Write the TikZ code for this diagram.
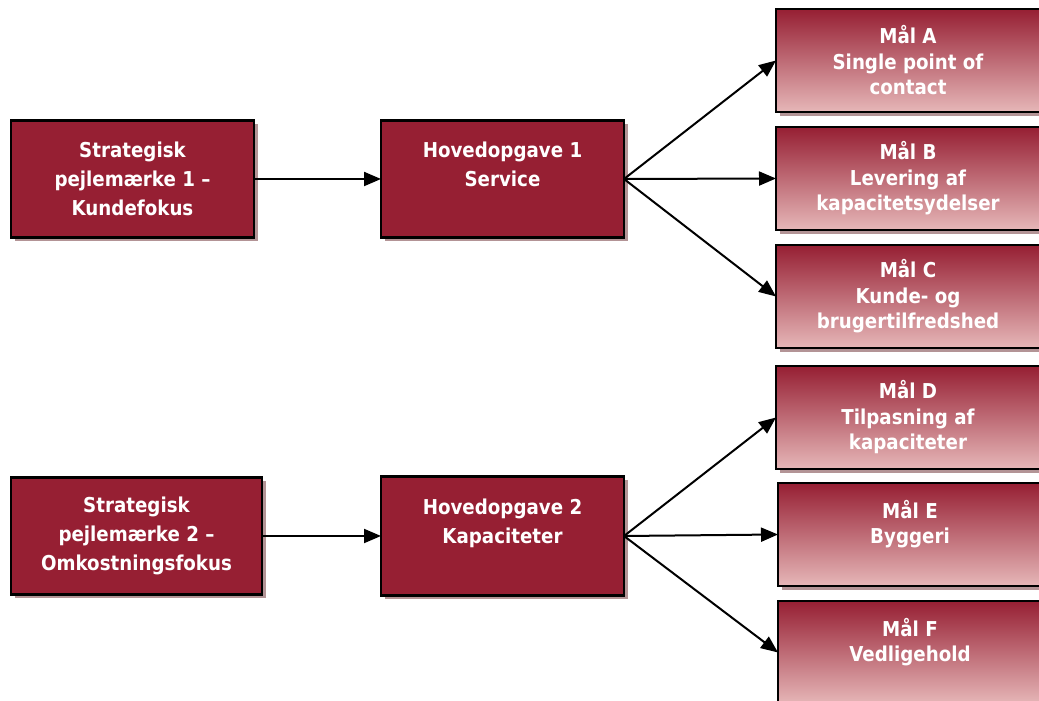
\documentclass[tikz,border=0pt]{standalone}
\usepackage{fontspec}
\setmainfont{DejaVu Sans}[FakeStretch=0.89]
\usetikzlibrary{arrows.meta,positioning,shadows}

\definecolor{boxred}{HTML}{961F33}
\definecolor{boxpink}{HTML}{E6B7B8}
\definecolor{shadowgrey}{HTML}{B39496}

\begin{document}
\begin{tikzpicture}[x=1pt, y=1pt,
  font=\fontsize{20.5}{29}\selectfont\bfseries,
  mbox/.style={draw, line width=2.2pt, fill=boxred, text=white, align=center, inner sep=0pt, outer sep=0pt,
    minimum width=243pt, minimum height=117pt,
    drop shadow={shadow xshift=4pt, shadow yshift=-4pt, fill=shadowgrey, opacity=1}},
  gbox/.style={mbox, top color=boxred, bottom color=boxpink, minimum width=264pt, minimum height=103pt,
    font=\fontsize{20.5}{25.5}\selectfont\bfseries},
  arr/.style={-{Triangle[length=17pt, width=14pt]}, line width=2pt}
]
\useasboundingbox (0,0) rectangle (1039,701);

% venstre side
\node[mbox] (s1) at (132.5,522) {Strategisk\\pejlemærke 1 --\\Kundefokus};
\node[mbox, right=127pt of s1] (h1) {Hovedopgave 1\\Service\\~};
\node[mbox, minimum width=251pt] (s2) at (136.5,165) {Strategisk\\pejlemærke 2 --\\Omkostningsfokus};
\node[mbox, minimum height=119pt] (h2) at (502.5,165) {Hovedopgave 2\\Kapaciteter\\~};

% maal
\node[gbox] (ma) at (908,640.5) {Mål A\\Single point of\\contact};
\node[gbox, below=15pt of ma] (mb) {Mål B\\Levering af\\kapacitetsydelser};
\node[gbox, below=15pt of mb] (mc) {Mål C\\Kunde- og\\brugertilfredshed};
\node[gbox, below=18pt of mc] (md) {Mål D\\Tilpasning af\\kapaciteter};
\node[gbox, below=14pt of md, xshift=2pt] (me) {Mål E\\Byggeri\\~};
\node[gbox, below=15pt of me] (mf) {Mål F\\Vedligehold\\~};

\draw[arr] (s1.east) -- (h1.west);
\draw[arr] (s2.east) -- (h2.west |- s2.east);
\draw[arr] (h1.east) -- (ma.west);
\draw[arr] (h1.east) -- (mb.west);
\draw[arr] (h1.east) -- (mc.west);
\draw[arr] (h2.east) -- (md.west);
\draw[arr] (h2.east) -- (me.west);
\draw[arr] (h2.east) -- (mf.west);
\end{tikzpicture}
\end{document}
